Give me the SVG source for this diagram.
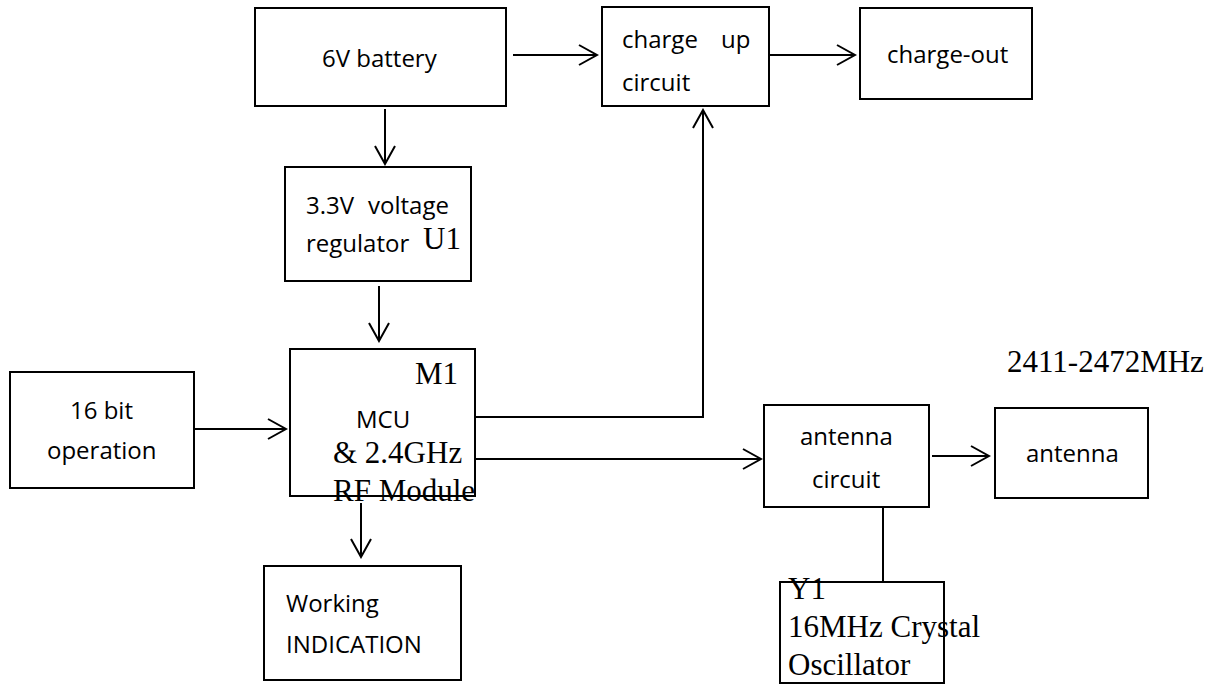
<svg xmlns="http://www.w3.org/2000/svg" width="1229" height="685" viewBox="0 0 1229 685">
  <defs>
    <style>
      .box { fill: #ffffff; stroke: #000000; stroke-width: 2; }
      .sans { font-family: "Open Sans", "Noto Sans", "Liberation Sans", sans-serif; font-size: 24px; fill: #000000; }
      .serif { font-family: "Liberation Serif", "DejaVu Serif", serif; font-size: 31px; fill: #000000; }
      .wire { fill: none; stroke: #000000; stroke-width: 2; }
    </style>
    <marker id="arrow" viewBox="-21 -12 23 24" markerWidth="23" markerHeight="24" refX="0" refY="0" orient="auto" markerUnits="userSpaceOnUse">
      <path d="M-18,-10 L0,0 L-18,10" fill="none" stroke="#000000" stroke-width="2"/>
    </marker>
  </defs>
  <rect x="0" y="0" width="1229" height="685" fill="#ffffff"/>

  <g id="connectors">
    <path class="wire" d="M513,55 H597" marker-end="url(#arrow)"/>
    <path class="wire" d="M770,55 H855" marker-end="url(#arrow)"/>
    <path class="wire" d="M385,109 V164" marker-end="url(#arrow)"/>
    <path class="wire" d="M379,286 V341" marker-end="url(#arrow)"/>
    <path class="wire" d="M194,429 H286" marker-end="url(#arrow)"/>
    <path class="wire" d="M475,417 H703 V110" marker-end="url(#arrow)"/>
    <path class="wire" d="M475,459 H761" marker-end="url(#arrow)"/>
    <path class="wire" d="M932,456 H989" marker-end="url(#arrow)"/>
    <path class="wire" d="M361,503 V557" marker-end="url(#arrow)"/>
    <path class="wire" d="M883,497 V582"/>
  </g>

  <g id="battery">
    <rect class="box" x="255" y="8" width="251" height="98"/>
    <text class="sans" x="322" y="67">6V battery</text>
  </g>

  <g id="charge-up">
    <rect class="box" x="602" y="7" width="167" height="99"/>
    <text class="sans" x="622" y="48">charge<tspan x="721">up</tspan></text>
    <text class="sans" x="622" y="91">circuit</text>
  </g>

  <g id="charge-out">
    <rect class="box" x="860" y="8" width="172" height="91"/>
    <text class="sans" x="887" y="63">charge-out</text>
  </g>

  <g id="regulator">
    <rect class="box" x="285" y="167" width="186" height="114"/>
    <text class="sans" x="306" y="214">3.3V<tspan x="368">voltage</tspan></text>
    <text class="sans" x="306" y="252">regulator</text>
    <text class="serif" x="423" y="249">U1</text>
  </g>

  <g id="operation">
    <rect class="box" x="10" y="372" width="184" height="116"/>
    <text class="sans" x="70" y="419">16 bit</text>
    <text class="sans" x="47" y="459">operation</text>
  </g>

  <g id="mcu">
    <rect class="box" x="290" y="349" width="185" height="147"/>
    <text class="serif" x="415" y="384">M1</text>
    <text class="sans" x="356" y="428">MCU</text>
    <text class="serif" x="333" y="463">&amp; 2.4GHz</text>
    <text class="serif" x="333" y="501">RF Module</text>
  </g>

  <g id="working">
    <rect class="box" x="264" y="566" width="197" height="114"/>
    <text class="sans" x="286" y="612">Working</text>
    <text class="sans" x="286" y="653">INDICATION</text>
  </g>

  <g id="antenna-circuit">
    <rect class="box" x="764" y="405" width="165" height="102"/>
    <text class="sans" x="800" y="445">antenna</text>
    <text class="sans" x="812" y="488">circuit</text>
  </g>

  <g id="antenna">
    <rect class="box" x="995" y="408" width="153" height="90"/>
    <text class="sans" x="1026" y="462">antenna</text>
  </g>

  <g id="frequency-label">
    <text class="serif" x="1007" y="372">2411-2472MHz</text>
  </g>

  <g id="crystal">
    <rect class="box" x="780" y="582" width="164" height="101"/>
    <text class="serif" x="788" y="599">Y1</text>
    <text class="serif" x="788" y="637">16MHz Crystal</text>
    <text class="serif" x="788" y="675">Oscillator</text>
  </g>
</svg>
